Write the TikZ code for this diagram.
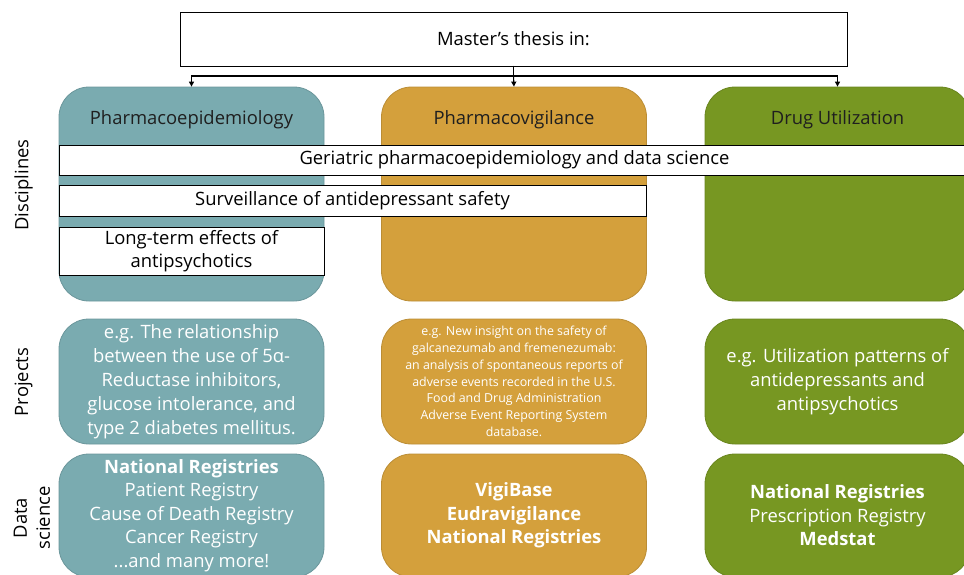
\documentclass[tikz,border=0pt]{standalone}
\usepackage{fontspec}
\setmainfont{Open Sans}
\usetikzlibrary{arrows.meta}
\usepackage{xcolor}

\definecolor{pecol}{RGB}{122,171,176}
\definecolor{pvcol}{RGB}{212,160,60}
\definecolor{ducol}{RGB}{119,151,34}

\begin{document}
\begin{tikzpicture}[x=1pt,y=-1pt,>={Triangle[length=5pt,width=5pt]},line cap=round,
  colbox/.style={rounded corners=30pt,draw=#1!88!black,fill=#1,line width=0.8pt,
    minimum width=265pt,inner sep=0pt,text=white,align=center},
  band/.style={draw,fill=white,line width=0.9pt,inner sep=0pt,align=center,
    font=\fontsize{18.4}{23}\selectfont},
  title/.style={text=black!88,font=\fontsize{18.4}{23}\selectfont},
  rowlabel/.style={rotate=90,align=center,font=\fontsize{18.4}{23}\selectfont}]
\useasboundingbox (0,0) rectangle (964,574);
\clip (0,0) rectangle (964,574);

\node[draw,line width=0.9pt,minimum width=667pt,minimum height=54pt,
  font=\fontsize{18.4}{23}\selectfont] (thesis) at (513.5,39) {Master’s thesis in:};

% disciplines
\node[colbox=pecol,minimum height=214pt] (pe) at (191.5,194) {};
\node[colbox=pvcol,minimum height=214pt] (pv) at (514,194) {};
\node[colbox=ducol,minimum height=214pt] (du) at (837.5,194) {};
\node[title] (petitle) at (191.5,119.5) {Pharmacoepidemiology};
\node[title] (pvtitle) at (514,119.5) {Pharmacovigilance};
\node[title] (dutitle) at (837.5,119.5) {Drug Utilization};

\coordinate (split) at (513.5,76);
\draw[line width=1.1pt] (thesis.south) -- (split);
\draw[line width=1.1pt,->] (split) -| (pe.north);
\draw[line width=1.1pt,->] (split) -- (pv.north);
\draw[line width=1.1pt,->] (split) -| (du.north);

\node[band,minimum width=911pt,minimum height=30pt] (geri) at (514.5,160)
  {Geriatric pharmacoepidemiology and data science};
\node[band,minimum width=587pt,minimum height=31pt] (surv) at (352.5,200.5)
  {Surveillance of antidepressant safety};
\node[band,minimum width=265pt,minimum height=48pt] (longterm) at (191.5,251)
  {Long-term effects of\\antipsychotics};

% projects
\node[colbox=pecol,minimum height=125pt,font=\fontsize{18.4}{24}\selectfont] (peproj) at (191.5,381.5)
  {e.g. The relationship\\between the use of 5α-\\Reductase inhibitors,\\glucose intolerance, and\\type 2 diabetes mellitus.};
\node[colbox=pvcol,minimum height=125pt,font=\fontsize{12.4}{16.8}\selectfont] (pvproj) at (514,381.5)
  {e.g. New insight on the safety of\\galcanezumab and fremenezumab:\\an analysis of spontaneous reports of\\adverse events recorded in the U.S.\\Food and Drug Administration\\Adverse Event Reporting System\\database.};
\node[colbox=ducol,minimum height=125pt,font=\fontsize{18.4}{24}\selectfont] (duproj) at (837.5,381.5)
  {e.g. Utilization patterns of\\antidepressants and\\antipsychotics};

% data science
\node[colbox=pecol,minimum height=123pt,font=\fontsize{18.4}{23.5}\selectfont] (pedata) at (191.5,515.5)
  {\textbf{National Registries}\\Patient Registry\\Cause of Death Registry\\Cancer Registry\\...and many more!};
\node[colbox=pvcol,minimum height=123pt,font=\fontsize{18.4}{23.5}\selectfont] (pvdata) at (514,515.5)
  {\textbf{VigiBase}\\\textbf{Eudravigilance}\\\textbf{National Registries}};
\node[colbox=ducol,minimum height=123pt,font=\fontsize{18.4}{23.5}\selectfont] (dudata) at (837.5,515.5)
  {\textbf{National Registries}\\Prescription Registry\\\textbf{Medstat}};

\node[rowlabel] (disc) at (23.5,185) {Disciplines};
\node[rowlabel] (proj) at (23.5,382) {Projects};
\node[rowlabel] (data) at (32,518) {Data\\science};
\end{tikzpicture}
\end{document}
